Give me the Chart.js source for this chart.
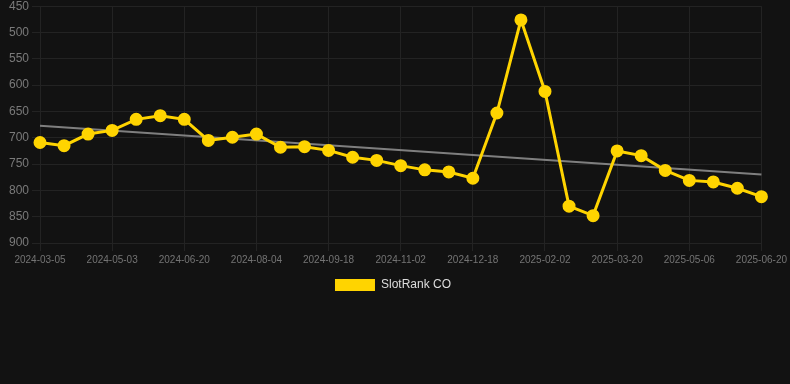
<!DOCTYPE html>
<html>
<head>
<meta charset="utf-8">
<script src="https://cdn.jsdelivr.net/npm/chart.js@4.4.1/dist/chart.umd.min.js"></script>
<style>
  html, body { margin: 0; padding: 0; background: #121212; overflow: hidden; }
  #wrap { width: 790px; height: 305px; margin-top: -4px; }
</style>
</head>
<body>
<div id="wrap"><canvas id="chart"></canvas></div>
<script>
// dates of each rank reading
const labels = [
	'2024-03-05', '2024-03-24', '2024-04-13', '2024-05-03', '2024-05-19', '2024-06-04',
	'2024-06-20', '2024-07-05', '2024-07-20', '2024-08-04', '2024-08-19', '2024-09-03',
	'2024-09-18', '2024-10-03', '2024-10-18', '2024-11-02', '2024-11-17', '2024-12-03',
	'2024-12-18', '2025-01-02', '2025-01-17', '2025-02-02', '2025-02-17', '2025-03-04',
	'2025-03-20', '2025-04-04', '2025-04-20', '2025-05-06', '2025-05-21', '2025-06-05',
	'2025-06-20',
];

// SlotRank CO values
const rankValues = [
	709, 715, 693, 686, 665, 658, 665, 705, 699, 693, 718, 717, 724, 737, 743, 753,
	761, 765, 777, 653, 476, 612, 830, 848, 725, 734, 762, 781, 784, 796, 812,
];

// trend line end points (first and last date)
const trendStart = 677;
const trendEnd = 770;
const trendValues = labels.map((l, i) =>
	i === 0 ? trendStart : i === labels.length - 1 ? trendEnd : null
);

const yTicks = [450, 500, 550, 600, 650, 700, 750, 800, 850, 900];

const defaultLabels = Chart.defaults.plugins.legend.labels.generateLabels;

new Chart(document.getElementById('chart'), {
	type: 'line',
	data: {
		labels,
		datasets: [
			{
				label: 'SlotRank CO',
				data: rankValues,
				borderColor: '#ffd400',
				backgroundColor: '#ffd400',
				borderWidth: 3,
				pointRadius: 5,
				pointHoverRadius: 6,
				tension: 0,
			},
			{
				label: 'trend',
				data: trendValues,
				borderColor: 'rgba(140,140,140,0.9)',
				borderWidth: 2,
				pointRadius: 0,
				spanGaps: true,
				fill: false,
			},
		],
	},
	options: {
		responsive: true,
		maintainAspectRatio: false,
		animation: false,
		layout: { padding: { right: 4 } },
		scales: {
			x: {
				grid: { color: '#232323' },
				border: { color: '#232323' },
				ticks: {
					color: '#747474',
					font: { size: 10 },
					maxRotation: 0,
					autoSkip: true,
				},
			},
			y: {
				reverse: true,
				min: yTicks[0],
				max: yTicks[yTicks.length - 1],
				afterBuildTicks: (axis) => {
					axis.ticks = yTicks.map((v) => ({ value: v }));
				},
				afterFit: (axis) => {
					axis.width = 40;
				},
				grid: { color: '#232323' },
				border: { color: '#232323' },
				ticks: { color: '#7a7a7a', font: { size: 12 } },
			},
		},
		plugins: {
			legend: {
				position: 'bottom',
				labels: {
					color: '#dddddd',
					font: { size: 12 },
					boxWidth: 40,
					boxHeight: 12,
					filter: (item) => item.text !== 'trend',
					// no stroke round the legend box
					generateLabels: (chart) =>
						defaultLabels(chart).map((item) => ({ ...item, lineWidth: 0 })),
				},
			},
			tooltip: { enabled: false },
		},
	},
});
</script>
</body>
</html>
